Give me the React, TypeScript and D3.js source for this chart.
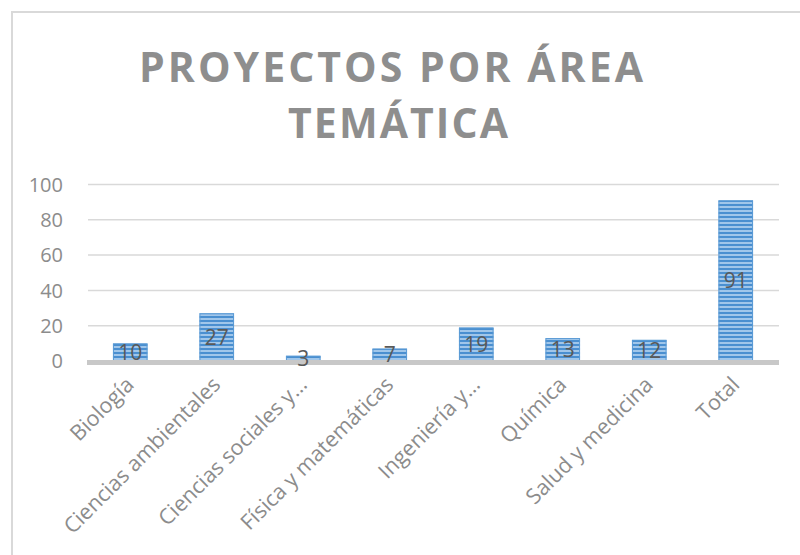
import React from "react";
import * as d3 from "d3";

const categories = [
  "Biología",
  "Ciencias ambientales",
  "Ciencias sociales y…",
  "Física y matemáticas",
  "Ingeniería y…",
  "Química",
  "Salud y medicina",
  "Total",
];
const values = [10, 27, 3, 7, 19, 13, 12, 91];
const yTicks = [0, 20, 40, 60, 80, 100];
const titleLines = ["PROYECTOS POR ÁREA", "TEMÁTICA"];

const W = 800;
const H = 555;
const plotLeft = 87;
const plotRight = 779;
const yZero = 361;
const yTop = 184.5;

export default function App() {
  const x = d3
    .scaleBand<string>()
    .domain(categories)
    .range([plotLeft, plotRight])
    .paddingInner(0.6)
    .paddingOuter(0.3);
  const y = d3.scaleLinear().domain([0, 100]).range([yZero, yTop]);
  const font = "'Open Sans', 'DejaVu Sans', sans-serif";

  return (
    <svg
      width={W}
      height={H}
      style={{ position: "absolute", left: 0, top: 0, background: "#fff" }}
    >
      <defs>
        <pattern id="stripes" width="6" height="4" patternUnits="userSpaceOnUse">
          <rect width="6" height="4" fill="#4a8fd0" />
          <rect y="2" width="6" height="2" fill="#a0c6ea" />
        </pattern>
      </defs>
      <rect x={12} y={12} width={800} height={600} fill="#fff" stroke="#d9d9d9" strokeWidth={2} />

      {titleLines.map((t, i) => (
        <text
          key={t}
          x={i === 0 ? 391 : 398}
          y={i === 0 ? 82 : 138}
          textAnchor="middle"
          fontFamily={font}
          fontWeight={700}
          fontSize={41}
          fill="#8e8e8e"
          textLength={i === 0 ? 504 : 220}
          lengthAdjust="spacing"
        >
          {t}
        </text>
      ))}

      {yTicks.map((t) => (
        <g key={t}>
          {t > 0 && (
            <line
              x1={plotLeft + 1}
              x2={plotRight}
              y1={y(t)}
              y2={y(t)}
              stroke="#d9d9d9"
              strokeWidth={1.5}
            />
          )}
          <text
            x={63}
            y={y(t)}
            dy="0.36em"
            textAnchor="end"
            fontFamily={font}
            fontSize={20}
            fill="#8c8c8c"
          >
            {t}
          </text>
        </g>
      ))}

      {categories.map((c, i) => {
        const bx = x(c)!;
        const bw = x.bandwidth();
        const top = y(values[i]);
        return (
          <g key={c}>
            <rect x={bx} y={top} width={bw} height={yZero - top} fill="url(#stripes)" />
            <rect
              x={bx + 0.5}
              y={top + 0.5}
              width={bw - 1}
              height={Math.max(0, yZero - top - 1)}
              fill="none"
              stroke="#5b9bd5"
              strokeWidth={1}
            />
          </g>
        );
      })}

      <rect x={plotLeft} y={360} width={plotRight - plotLeft} height={5} fill="#c8c8c8" />

      {categories.map((c, i) => {
        const cx = x(c)! + x.bandwidth() / 2;
        const top = y(values[i]);
        const cy = (top + yZero) / 2;
        return (
          <text
            key={c + "v"}
            x={cx}
            y={cy}
            dy="0.36em"
            textAnchor="middle"
            fontFamily={font}
            fontSize={21}
            fill="#595959"
          >
            {values[i]}
          </text>
        );
      })}

      {categories.map((c) => {
        const cx = x(c)! + x.bandwidth() / 2;
        return (
          <text
            key={c + "l"}
            transform={`translate(${cx + 5},${386}) rotate(-45)`}
            textAnchor="end"
            fontFamily={font}
            fontSize={21.5}
            fill="#8c8c8c"
          >
            {c}
          </text>
        );
      })}
    </svg>
  );
}
